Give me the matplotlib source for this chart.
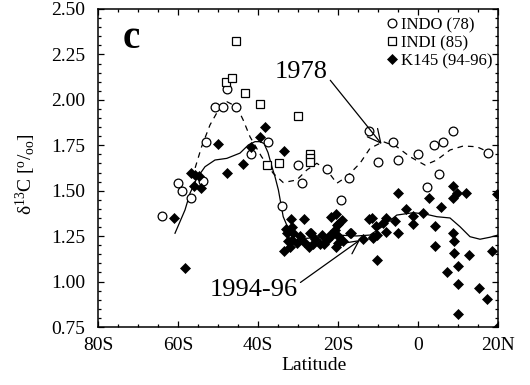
import matplotlib
matplotlib.use('Agg')
import matplotlib.pyplot as plt
from matplotlib.ticker import MultipleLocator
from matplotlib.lines import Line2D

plt.rcParams['font.family'] = ['Liberation Serif', 'DejaVu Serif']
plt.rcParams['mathtext.fontset'] = 'custom'
plt.rcParams['mathtext.rm'] = 'Liberation Serif'
plt.rcParams['mathtext.it'] = 'Liberation Serif:italic'
plt.rcParams['mathtext.bf'] = 'Liberation Serif:bold'

# ---------------- data ----------------
indo_lat = [-64.1, -59.9, -59.1, -56.75, -53.8, -53.0, -50.75, -48.8, -47.7, -45.5,
            -41.8, -37.5, -34.0, -30.1, -29.0, -22.8, -19.3, -17.25, -12.25, -9.9,
            -6.2, -4.9, 0.1, 2.2, 4.1, 5.25, 6.3, 8.7, 17.6]
indo_val = [1.36, 1.54, 1.50, 1.46, 1.555, 1.77, 1.96, 1.96, 2.06, 1.96,
            1.70, 1.77, 1.415, 1.64, 1.545, 1.62, 1.45, 1.57, 1.83, 1.66,
            1.77, 1.67, 1.70, 1.52, 1.75, 1.59, 1.77, 1.83, 1.71]

indi_lat = [-48.0, -46.4, -45.5, -43.25, -39.5, -37.7, -34.75, -30.1, -27.0, -27.0, -27.0]
indi_val = [2.10, 2.12, 2.325, 2.04, 1.975, 1.64, 1.65, 1.91, 1.70, 1.68, 1.66]

k145_lat = [-60.9, -58.3, -56.8, -55.75, -54.7, -55.9, -54.25, -49.9, -47.8, -43.8,
            -41.8, -39.5, -38.25, -33.4,
            -31.75, -28.4, -21.7, -20.5, -31.6, -19.9, -20.75, -32.8, -31.2, -27.0,
            -21.6, -19.9, -17.0, -32.4, -25.75, -24.5, -19.9, -18.7, -13.7, -12.2,
            -10.5, -10.3, -33.6, -32.0, -27.2, -23.4, -20.4, -10.2, -30.3, -31.6,
            -24.0, -22.0, -20.3, -16.8, -11.2, -26.8, -29.5, -33.0, -28.5, -22.8,
            -26.2, -19.0,
            -8.0, -5.75, -8.7, -8.0, -11.3, -4.9, -11.6, -4.9, -3.0, 1.3,
            -1.2, -1.3, 2.8, 4.2, 5.7, 8.7, 9.7, 12.0, 8.7, 8.7,
            9.0, 4.25, 9.0, 12.7, 18.4, 7.2, 10.1, 10.1, 15.25, 17.3,
            10.1, 19.7, 20.0]
k145_val = [1.35, 1.075, 1.60, 1.585, 1.58, 1.525, 1.515, 1.757, 1.597, 1.646,
            1.742, 1.797, 1.849, 1.718,
            1.345, 1.344, 1.354, 1.372, 1.302, 1.317, 1.284, 1.267, 1.265, 1.269,
            1.256, 1.25, 1.269, 1.225, 1.233, 1.207, 1.214, 1.225, 1.233, 1.343,
            1.308, 1.256, 1.167, 1.192, 1.19, 1.205, 1.193, 1.117, 1.21, 1.229,
            1.256, 1.256, 1.311, 1.269, 1.244, 1.268, 1.25, 1.29, 1.22, 1.23,
            1.205, 1.34,
            1.348, 1.335, 1.321, 1.274, 1.238, 1.268, 1.348, 1.489, 1.40, 1.378,
            1.361, 1.317, 1.462, 1.306, 1.409, 1.528, 1.489, 1.489, 1.46, 1.268,
            1.225, 1.196, 1.156, 1.146, 1.168, 1.054, 1.088, 0.986, 0.966, 0.904,
            0.823, 1.481, 0.75]

fit78_lat = [-56.5, -55.75, -54.1, -52.0, -49.9, -47.8, -45.3, -43.7, -42.0, -39.1,
             -36.2, -33.7, -30.3, -27.8, -25.3, -22.8, -20.3, -17.8, -14.5, -12.0,
             -8.7, -5.3, -2.0, 1.75, 4.7, 8.0, 11.3, 14.7, 17.0]
fit78_val = [1.57, 1.623, 1.742, 1.862, 1.944, 1.99, 1.962, 1.889, 1.797, 1.687,
             1.596, 1.545, 1.559, 1.614, 1.651, 1.614, 1.541, 1.577, 1.651, 1.733,
             1.77, 1.742, 1.687, 1.641, 1.669, 1.724, 1.746, 1.742, 1.719]

fit94_lat = [-60.75, -59.5, -58.25, -57.0, -55.3, -53.25, -50.75, -47.8, -44.5, -42.4,
             -40.75, -39.5, -38.5, -37.5, -36.5, -35.75, -34.9, -33.7, -32.5, -31.2,
             -27.8, -23.7, -20.3, -15.3, -12.0, -8.7, -5.3, -1.2, 1.75, 4.7,
             8.0, 10.5, 13.0, 15.5, 18.0, 20.0]
fit94_val = [1.266, 1.33, 1.394, 1.486, 1.568, 1.632, 1.669, 1.678, 1.707, 1.752,
             1.77, 1.77, 1.76, 1.71, 1.63, 1.577, 1.504, 1.357, 1.295, 1.256,
             1.238, 1.247, 1.256, 1.251, 1.256, 1.306, 1.366, 1.379, 1.372, 1.357,
             1.35, 1.302, 1.247, 1.233, 1.244, 1.256]

xtick_vals = [-80, -60, -40, -20, 0, 20]
xtick_labels = ['80S', '60S', '40S', '20S', '0', '20N']
ytick_vals = [0.75, 1.00, 1.25, 1.50, 1.75, 2.00, 2.25, 2.50]
legend_labels = ['INDO (78)', 'INDI (85)', 'K145 (94-96)']

# ---------------- figure ----------------
fig = plt.figure(figsize=(5.3, 3.85), dpi=100)
ax = fig.add_axes([98 / 530, 58 / 385, 400 / 530, 318 / 385])

ax.plot(fit78_lat, fit78_val, color='black', lw=0.9, linestyle=(0, (4.5, 4)), zorder=2)
ax.plot(fit94_lat, fit94_val, color='black', lw=0.9, linestyle='-', zorder=2)

ax.plot(indo_lat, indo_val, linestyle='none', marker='o', ms=6.3, mfc='white',
        mec='black', mew=0.9, zorder=3)
ax.plot(indi_lat, indi_val, linestyle='none', marker='s', ms=5.3, mfc='white',
        mec='black', mew=0.9, zorder=3)
ax.plot(k145_lat, k145_val, linestyle='none', marker='D', ms=5.2, mfc='black',
        mec='black', mew=0.5, zorder=4)

ax.set_xlim(-80, 20)
ax.set_ylim(0.75, 2.5)
ax.set_xticks(xtick_vals)
ax.set_xticklabels(xtick_labels)
ax.set_yticks(ytick_vals)
ax.set_yticklabels(['%.2f' % v for v in ytick_vals])
ax.xaxis.set_minor_locator(MultipleLocator(5))
ax.yaxis.set_minor_locator(MultipleLocator(0.05))
ax.tick_params(which='both', direction='in', top=True, right=True, width=0.9,
               labelsize=14)
ax.tick_params(which='major', length=4.5)
ax.tick_params(which='minor', length=2.3)
ax.tick_params(axis='x', pad=7)
ax.tick_params(axis='y', pad=9)
for sp in ax.spines.values():
    sp.set_linewidth(1.1)

ax.set_xlabel('Latitude', fontsize=14)
ax.xaxis.set_label_coords(0.54, -0.095)
ax.set_ylabel(r'δ$^{\mathrm{13}}$C [$^{\mathrm{o}}$/$_{\mathrm{oo}}$]', fontsize=14)
ax.yaxis.set_label_coords(-0.15, 0.48)

ax.text(-71.75, 2.335, 'c', fontsize=28, fontweight='bold', ha='center', va='center')

ax.annotate('1978', xy=(-9.1, 1.757), xytext=(-29.25, 2.151), fontsize=19,
            ha='center', va='center',
            arrowprops=dict(arrowstyle='->,head_length=0.5,head_width=0.25',
                            color='black', lw=0.9, shrinkA=0, shrinkB=0,
                            relpos=(1.0, 0.3)))
ax.annotate('1994-96', xy=(-14.5, 1.229), xytext=(-41.1, 0.954), fontsize=19,
            ha='center', va='center',
            arrowprops=dict(arrowstyle='->,head_length=0.5,head_width=0.25',
                            color='black', lw=0.9, shrinkA=0, shrinkB=0,
                            relpos=(1.0, 0.75)))

handles = [
    Line2D([], [], linestyle='none', marker='o', ms=6.3, mfc='white', mec='black', mew=0.9),
    Line2D([], [], linestyle='none', marker='s', ms=5.3, mfc='white', mec='black', mew=0.9),
    Line2D([], [], linestyle='none', marker='D', ms=5.2, mfc='black', mec='black', mew=0.5),
]
ax.legend(handles, legend_labels, loc='upper left', bbox_to_anchor=(0.7225, 0.975),
          frameon=False, fontsize=12, handlelength=0.6, handletextpad=0.25,
          labelspacing=0.12, borderpad=0, borderaxespad=0)

fig.savefig('out.png', dpi=100)
